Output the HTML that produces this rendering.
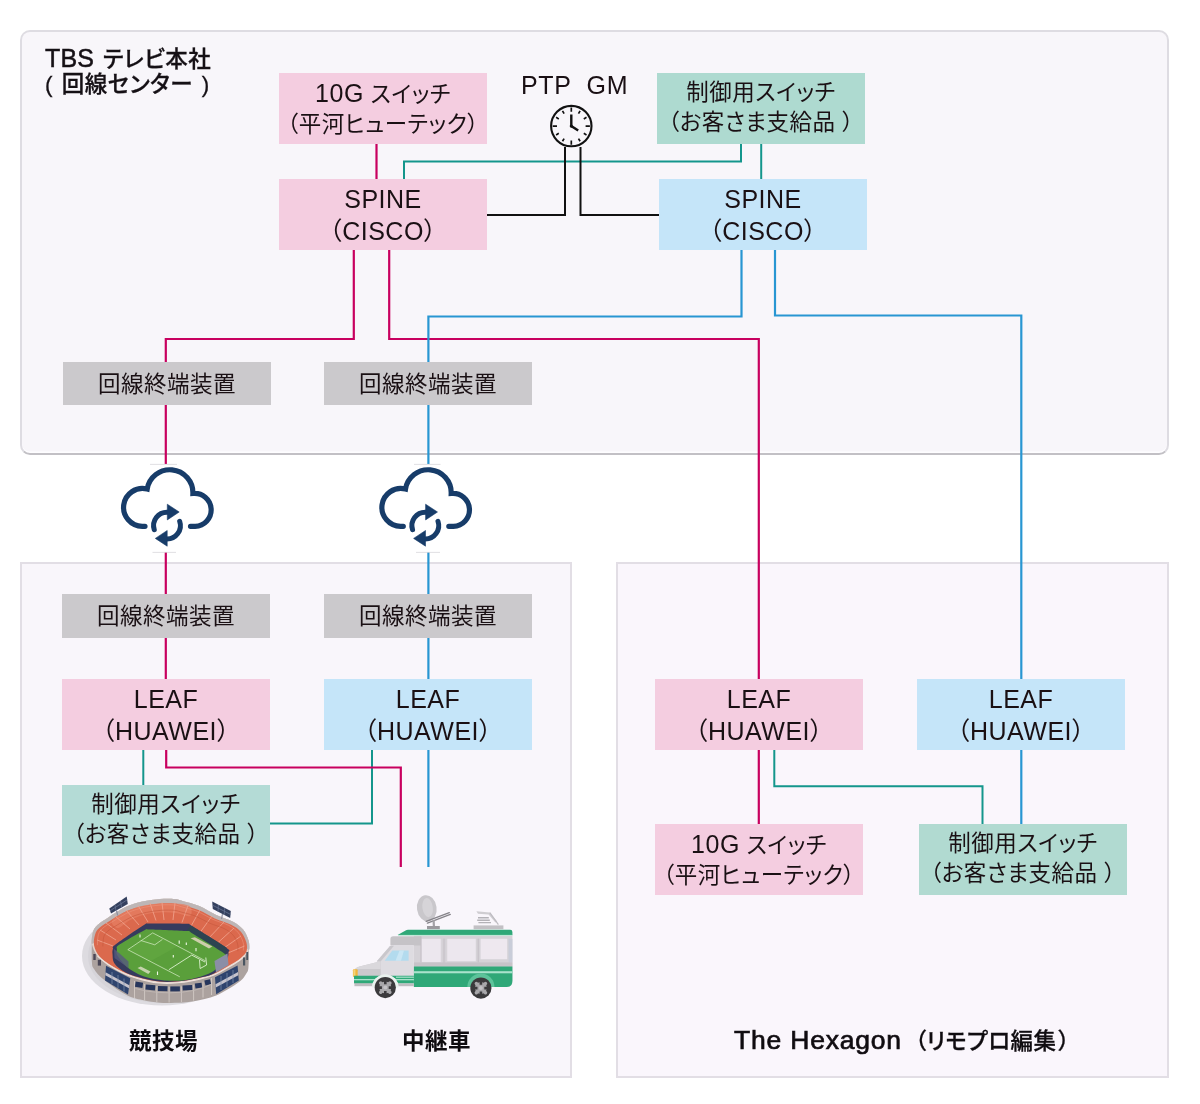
<!DOCTYPE html>
<html lang="ja">
<head>
<meta charset="utf-8">
<title>TBS テレビ本社 ネットワーク構成図</title>
<style>
  html, body { margin: 0; padding: 0; background: #ffffff; }
  body { width: 1200px; height: 1104px; position: relative; overflow: hidden;
         font-family: "Liberation Sans", "Noto Sans CJK JP", sans-serif; color: #1a1014; }
  #root { position: absolute; left: 0; top: 0; width: 1200px; height: 1104px; will-change: transform; }
  .panel { position: absolute; box-sizing: border-box; background: #f8f6fa; border: 2px solid #dedce2; }
  #p-top { left: 20px; top: 30px; width: 1149px; height: 425px; border-radius: 10px;
           border-bottom: 2px solid #c2c0c5; box-shadow: inset 0 -1.5px 0 0 #fefdff; }
  #p-left { left: 20px; top: 562px; width: 552px; height: 516px; background: #f9f6fb; border-color: #e2dee5; }
  #p-right { left: 616px; top: 562px; width: 553px; height: 516px; background: #faf6fc; border-color: #e2dee5; }

  .box { position: absolute; box-sizing: border-box; width: 208px; height: 71px; text-align: center;
         font-size: 22.5px; line-height: 30px; padding-top: 5px; white-space: nowrap; letter-spacing: 0.5px;
         font-feature-settings: "palt" 1; }
  .en { font-size: 25px; letter-spacing: 0.5px; }
  .pink { background: #f4cde0; }
  .blue { background: #c5e5f9; }
  .green { background: #aedad0; }
  .green2 { background: #b4dbd6; }
  .green3 { background: #b1dad1; }
  .gray { background: #cbc9cc; height: 43.5px; line-height: 43px; padding-top: 1px; }

  .title { position: absolute; left: 45px; top: 45.5px; font-size: 22.5px; line-height: 25px; font-weight: 500;
           white-space: nowrap; color: #151015; letter-spacing: 0.5px; word-spacing: 2px; font-feature-settings: "palt" 1; }
  .title .en { letter-spacing: 0.2px; }
  .title, #hex { -webkit-text-stroke: 0.3px #151015; }
  .title .en { -webkit-text-stroke: 0.5px #151015; }
  #hex .en { -webkit-text-stroke: 0.7px #151015; }
  #hex .en { font-size: 26.5px; letter-spacing: 0.8px; }
  .lbl { position: absolute; font-weight: 700; font-size: 22.5px; line-height: 30px; white-space: nowrap; color: #0f0c10;
         letter-spacing: 0.5px; font-feature-settings: "palt" 1; }
  .ptp { position: absolute; left: 521px; top: 69.5px; font-size: 25px; line-height: 30px; white-space: pre; letter-spacing: 0.7px; }
  svg { position: absolute; left: 0; top: 0; }
</style>
</head>
<body>
<div id="root">

<div class="panel" id="p-top"></div>
<div class="panel" id="p-left"></div>
<div class="panel" id="p-right"></div>

<!-- connection lines -->
<svg id="lines" width="1200" height="1104" viewBox="0 0 1200 1104" fill="none" stroke-width="2" stroke-linejoin="miter">
  <!-- teal -->
  <g stroke="#14968c">
    <path d="M404 180 V161.5 H741 V143"/>
    <path d="M761.2 143 V180"/>
    <path d="M143.3 749 V786"/>
    <path d="M372 749 V823.5 H270"/>
    <path d="M774.3 749 V786.3 H982.5 V825"/>
  </g>
  <!-- pink -->
  <g stroke="#c8005f" stroke-width="2.2">
    <path d="M376.5 143 V180"/>
    <path d="M353.8 249 V339 H165.8 V464"/>
    <path d="M165.8 552 V680"/>
    <path d="M166.2 749 V767.5 H400.8 V867"/>
    <path d="M389.2 249 V339 H758.8 V825"/>
  </g>
  <!-- blue -->
  <g stroke="#2896d2" stroke-width="2.2">
    <path d="M741.5 249 V316.5 H428.4 V464"/>
    <path d="M428.4 552 V867"/>
    <path d="M775 249 V315.5 H1021.3 V825"/>
  </g>
  <!-- black -->
  <g stroke="#111111">
    <path d="M486 215 H565 V147"/>
    <path d="M660 215 H580.5 V147"/>
  </g>
</svg>

<!-- top panel -->
<div class="title"><span class="en">TBS</span> テレビ本社<br>( 回線センター )</div>

<div class="box pink" style="left:279px;top:73px"><span class="en">10G</span> スイッチ<br>（平河ヒューテック）</div>
<div class="box pink" style="left:279px;top:179px"><span class="en">SPINE<br>（CISCO）</span></div>
<div class="ptp">PTP  GM</div>
<div class="box green" style="left:657px;top:73px">制御用スイッチ<br>（お客さま支給品 ）</div>
<div class="box blue" style="left:659px;top:179px"><span class="en">SPINE<br>（CISCO）</span></div>
<div class="box gray" style="left:63px;top:361.5px">回線終端装置</div>
<div class="box gray" style="left:324px;top:361.5px">回線終端装置</div>

<!-- bottom-left panel -->
<div class="box gray" style="left:62px;top:594px">回線終端装置</div>
<div class="box gray" style="left:324px;top:594px">回線終端装置</div>
<div class="box pink" style="left:62px;top:679px"><span class="en">LEAF<br>（HUAWEI）</span></div>
<div class="box blue" style="left:324px;top:679px"><span class="en">LEAF<br>（HUAWEI）</span></div>
<div class="box green2" style="left:62px;top:785px">制御用スイッチ<br>（お客さま支給品 ）</div>
<div class="lbl" style="left:129px;top:1027px">競技場</div>
<div class="lbl" style="left:402px;top:1027px">中継車</div>

<!-- bottom-right panel -->
<div class="box pink" style="left:655px;top:679px"><span class="en">LEAF<br>（HUAWEI）</span></div>
<div class="box blue" style="left:917px;top:679px"><span class="en">LEAF<br>（HUAWEI）</span></div>
<div class="box pink" style="left:655px;top:824px"><span class="en">10G</span> スイッチ<br>（平河ヒューテック）</div>
<div class="box green3" style="left:919px;top:824px">制御用スイッチ<br>（お客さま支給品 ）</div>
<div class="lbl" id="hex" style="left:734px;top:1024.75px;font-weight:500"><span class="en">The Hexagon</span><span style="margin-left:13px;letter-spacing:0.4px">（リモプロ編集<span style="margin-left:2px">）</span></span></div>

<!-- icons -->
<svg id="icons" width="1200" height="1104" viewBox="0 0 1200 1104">
  <!-- clock -->
  <g fill="none" stroke="#111111" stroke-linecap="butt">
    <circle cx="571.3" cy="126.1" r="20.2" stroke-width="2.1"/>
    <path d="M571.3 111.8L571.3 107.5M578.5 113.6L580.1 110.9M583.8 118.9L586.5 117.3M585.6 126.1L589.9 126.1M583.8 133.3L586.5 134.9M578.5 138.6L580.1 141.3M571.3 140.4L571.3 144.7M564.1 138.6L562.5 141.3M558.8 133.3L556.1 134.9M557.0 126.1L552.7 126.1M558.8 118.9L556.1 117.3M564.1 113.6L562.5 110.9" stroke-width="1.7"/>
    <path d="M571.3 114.6 V126.1 L578.2 130.5" stroke-width="2.4" stroke-linejoin="miter"/>
    <circle cx="571.3" cy="126.1" r="1.6" fill="#111111" stroke="none"/>
  </g>
  <!-- cloud sync icons -->
  <path d="M150 464.4H177M152.5 552.4H176M414 464.4H440.5M416 552.4H440" stroke="#d9d8dc" stroke-width="0.8" fill="none"/>
  <g>
    <path d="M145 526.3 H142.3 A18.9 18.9 0 1 1 147.2 489.1 A23 23 0 0 1 192.9 493.4 A16.5 16.5 0 1 1 195.1 526.3 H190.5" fill="none" stroke="#173c69" stroke-width="5.2" stroke-linecap="round" stroke-linejoin="miter"/>
    <path d="M154.26 529.74 A13.4 13.4 0 0 1 167.47 512.21 M179.67 521.24 A13.4 13.4 0 0 1 166.53 538.99" fill="none" stroke="#173c69" stroke-width="5" stroke-linecap="round"/>
    <path d="M167.3 504.2 L179.2 512 L167.3 519.9 Z M167.2 530.5 L155.3 538.4 L167.2 546.2 Z" fill="#173c69" stroke="#173c69" stroke-width="0.6" stroke-linejoin="round"/>
  </g>
  <g transform="translate(258.3 0)">
    <path d="M145 526.3 H142.3 A18.9 18.9 0 1 1 147.2 489.1 A23 23 0 0 1 192.9 493.4 A16.5 16.5 0 1 1 195.1 526.3 H190.5" fill="none" stroke="#173c69" stroke-width="5.2" stroke-linecap="round" stroke-linejoin="miter"/>
    <path d="M154.26 529.74 A13.4 13.4 0 0 1 167.47 512.21 M179.67 521.24 A13.4 13.4 0 0 1 166.53 538.99" fill="none" stroke="#173c69" stroke-width="5" stroke-linecap="round"/>
    <path d="M167.3 504.2 L179.2 512 L167.3 519.9 Z M167.2 530.5 L155.3 538.4 L167.2 546.2 Z" fill="#173c69" stroke="#173c69" stroke-width="0.6" stroke-linejoin="round"/>
  </g>
  <!--STADIUM-->
  <!-- stadium -->
  <g>
    <ellipse cx="162" cy="956" rx="80" ry="49.5" fill="#dddbe0"/>
    <ellipse cx="164" cy="956" rx="76" ry="47" fill="#d6d4d9"/>
    <path d="M91.9 944.0C92.1 939.0 92.1 935.2 93.0 932.0C93.9 928.8 94.9 927.5 97.5 925.0C100.1 922.5 104.0 920.2 108.7 917.2C113.4 914.2 120.0 909.7 125.6 907.1C131.2 904.5 136.7 902.9 142.4 901.5C148.1 900.1 154.6 899.3 160.0 898.9C165.4 898.5 171.2 898.6 175.0 898.9C178.8 899.2 178.4 899.7 182.5 900.9C186.6 902.1 193.7 903.6 199.3 906.0C204.9 908.4 210.6 912.4 216.2 915.0C221.8 917.6 228.5 919.3 233.0 921.7C237.5 924.1 240.5 926.4 243.1 929.6C245.7 932.8 247.6 937.4 248.6 940.8C249.6 944.2 248.8 945.5 248.8 950.0C248.8 954.5 248.9 964.0 248.4 968.0C247.9 972.0 247.6 971.6 246.0 974.0C244.4 976.4 243.7 978.7 238.7 982.3C233.7 985.9 223.7 992.4 216.2 995.5C208.7 998.6 200.6 1000.0 193.7 1001.2C186.8 1002.4 180.6 1002.5 175.0 1002.8C169.4 1003.1 165.4 1003.3 160.0 1002.8C154.6 1002.3 148.1 1001.4 142.4 1000.0C136.7 998.6 132.2 997.9 125.6 994.4C119.0 990.9 108.4 983.1 103.1 978.9C97.8 974.7 95.9 971.8 94.0 969.0C92.1 966.2 92.2 966.2 91.9 962.0C91.6 957.8 91.7 949.0 91.9 944.0Z" fill="#aca29f"/>
    <path d="M91.9 944.0C91.2 940.0 92.1 935.2 93.0 932.0C93.9 928.8 94.9 927.5 97.5 925.0C100.1 922.5 104.0 920.2 108.7 917.2C113.4 914.2 120.0 909.7 125.6 907.1C131.2 904.5 136.7 902.9 142.4 901.5C148.1 900.1 154.6 899.3 160.0 898.9C165.4 898.5 171.2 898.6 175.0 898.9C178.8 899.2 178.4 899.7 182.5 900.9C186.6 902.1 193.7 903.6 199.3 906.0C204.9 908.4 210.6 912.4 216.2 915.0C221.8 917.6 228.5 919.3 233.0 921.7C237.5 924.1 240.5 926.4 243.1 929.6C245.7 932.8 247.6 937.4 248.6 940.8C249.6 944.2 249.4 947.5 248.8 950.0C248.2 952.5 246.7 953.7 245.0 955.5C243.3 957.3 241.6 958.9 238.7 960.9C235.8 962.9 231.5 965.4 227.4 967.7C223.3 970.1 219.5 972.9 213.9 975.0C208.3 977.1 200.2 979.1 193.7 980.4C187.2 981.7 180.6 982.6 175.0 983.0C169.4 983.4 165.4 983.5 160.0 983.0C154.6 982.5 148.1 981.3 142.4 979.8C136.7 978.3 131.2 976.7 125.6 974.2C120.0 971.7 113.4 968.0 108.7 965.0C104.0 962.0 100.3 959.5 97.5 956.0C94.7 952.5 92.7 948.0 91.9 944.0Z" fill="#e3d3cc"/>
    <path d="M91.9 944.0C90.7 943.5 92.1 935.2 93.0 932.0C93.9 928.8 94.9 927.5 97.5 925.0C100.1 922.5 104.0 920.2 108.7 917.2C113.4 914.2 120.0 909.7 125.6 907.1C131.2 904.5 136.7 902.9 142.4 901.5C148.1 900.1 154.6 899.3 160.0 898.9C165.4 898.5 171.2 898.6 175.0 898.9C178.8 899.2 178.4 899.7 182.5 900.9C186.6 902.1 193.7 903.6 199.3 906.0C204.9 908.4 210.6 912.4 216.2 915.0C221.8 917.6 228.5 919.3 233.0 921.7C237.5 924.1 240.5 926.4 243.1 929.6C245.7 932.8 247.6 937.4 248.6 940.8C249.6 944.2 250.2 950.1 248.8 950.0C247.4 949.9 244.0 944.2 240.0 940.0C236.0 935.8 231.7 929.7 225.0 925.0C218.3 920.3 209.2 915.3 200.0 912.0C190.8 908.7 180.0 905.8 170.0 905.0C160.0 904.2 149.2 904.5 140.0 907.0C130.8 909.5 121.7 915.3 115.0 920.0C108.3 924.7 103.8 931.0 100.0 935.0C96.2 939.0 93.1 944.5 91.9 944.0Z" fill="#bdb6b6"/>
    <path d="M94.1 945.4C93.4 941.7 94.2 937.2 95.2 934.2C96.1 931.3 97.0 930.0 99.5 927.7C102.1 925.4 105.9 923.2 110.4 920.5C115.0 917.7 121.4 913.5 126.8 911.1C132.3 908.6 137.6 907.1 143.2 905.9C148.7 904.6 155.0 903.9 160.3 903.4C165.6 903.0 171.2 903.1 174.9 903.4C178.5 903.8 178.2 904.2 182.2 905.3C186.1 906.4 193.0 907.9 198.5 910.1C203.9 912.2 209.4 916.0 214.9 918.4C220.4 920.9 226.9 922.4 231.2 924.7C235.6 926.9 238.5 929.0 241.1 932.0C243.6 935.0 245.5 939.3 246.4 942.4C247.3 945.6 247.2 948.7 246.6 951.0C246.0 953.2 244.5 954.4 242.9 956.1C241.3 957.8 239.6 959.2 236.8 961.1C233.9 963.0 229.8 965.2 225.8 967.4C221.8 969.6 218.1 972.3 212.7 974.2C207.2 976.2 199.3 978.0 193.0 979.2C186.7 980.5 180.3 981.3 174.9 981.7C169.4 982.1 165.6 982.2 160.3 981.7C155.0 981.2 148.7 980.0 143.2 978.7C137.6 977.3 132.3 975.8 126.8 973.5C121.4 971.2 115.0 967.7 110.4 964.9C105.9 962.1 102.3 959.8 99.5 956.6C96.8 953.3 94.8 949.1 94.1 945.4Z" fill="#db694d"/>
    <path d="M112.0 921.0C113.3 918.2 120.8 914.0 126.0 911.5C131.2 909.0 137.3 907.1 143.0 905.8C148.7 904.4 154.5 903.8 160.0 903.4C165.5 903.0 171.0 903.1 176.0 903.6C181.0 904.1 187.7 904.4 190.0 906.5C192.3 908.6 192.3 914.9 190.0 916.0C187.7 917.1 181.0 913.6 176.0 913.0C171.0 912.4 165.2 912.2 160.0 912.5C154.8 912.8 150.0 913.2 145.0 914.5C140.0 915.8 134.5 917.8 130.0 920.0C125.5 922.2 121.0 927.8 118.0 928.0C115.0 928.2 110.7 923.8 112.0 921.0Z" fill="#e57f63" opacity="0.75"/>
    <path d="M100 930L116 940M106 923L122 935M115 916L130 929M126 910L139 925M138 905.5L148 922M150 903L156 920.5M162 902.5L164 920M175 902.8L173 920M188 905.5L182 922.5M200 910L190 928M212 916L199 934M224 922L208 939M234 928L217 943.5M241 936L224 948M97 940L113 946M244.5 946L228 953" stroke="#f0a58f" stroke-width="0.9" fill="none" opacity="0.9"/>
    <path d="M102.8 946.4C103.0 944.8 103.0 939.3 103.8 936.8C104.6 934.3 105.4 933.2 107.7 931.2C109.9 929.2 113.3 927.3 117.3 925.0C121.3 922.6 127.0 919.0 131.8 916.9C136.6 914.8 141.3 913.5 146.3 912.4C151.2 911.3 156.7 910.7 161.4 910.3C166.1 910.0 171.1 910.1 174.3 910.3C177.5 910.6 177.3 911.0 180.8 911.9C184.2 912.9 190.4 914.1 195.2 916.0C200.0 917.9 204.9 921.1 209.7 923.2C214.6 925.3 220.3 926.6 224.2 928.6C228.0 930.5 230.6 932.3 232.9 934.9C235.1 937.4 236.8 941.1 237.6 943.8C238.4 946.6 237.7 950.0 237.8 951.2" stroke="#c4563c" stroke-width="0.8" fill="none" opacity="0.7"/>
    <path d="M97.4 945.2C97.5 943.4 97.5 937.3 98.4 934.5C99.3 931.7 100.1 930.5 102.6 928.3C105.0 926.1 108.6 924.0 113.0 921.3C117.3 918.7 123.5 914.7 128.7 912.3C133.9 910.0 139.0 908.6 144.3 907.3C149.7 906.1 155.6 905.4 160.7 905.0C165.8 904.6 171.2 904.7 174.7 905.0C178.1 905.3 177.9 905.8 181.6 906.8C185.4 907.9 192.0 909.3 197.2 911.4C202.5 913.4 207.7 917.0 213.0 919.4C218.2 921.7 224.4 923.2 228.6 925.3C232.8 927.5 235.6 929.5 238.0 932.4C240.4 935.2 242.2 939.3 243.1 942.3C244.0 945.3 243.3 949.1 243.3 950.5" stroke="#ef9a83" stroke-width="0.7" fill="none" opacity="0.7"/>
    <path d="M113.0 948.5C113.5 946.9 110.4 948.4 115.5 944.5C120.6 940.6 137.8 928.7 143.5 925.2C149.2 921.7 142.9 923.8 150.0 923.6C157.1 923.4 179.0 923.4 186.0 923.8C193.0 924.2 185.3 922.0 192.0 926.0C198.7 930.0 219.9 943.1 226.0 947.5C232.1 951.9 228.5 950.2 228.5 952.5C228.5 954.8 228.4 957.5 226.0 961.0C223.6 964.5 219.3 970.5 213.9 973.5C208.5 976.5 200.2 977.5 193.7 978.9C187.2 980.2 180.6 981.1 175.0 981.6C169.4 982.1 165.4 982.2 160.0 981.6C154.6 981.0 148.1 979.8 142.4 978.3C136.7 976.8 130.2 975.1 125.6 972.6C120.9 970.1 116.7 966.6 114.5 963.5C112.3 960.4 112.8 956.5 112.5 954.0C112.2 951.5 112.5 950.1 113.0 948.5Z" fill="#363b5e"/>
    <path d="M191 925.6 L226.5 947.6 L226 956 L186 931 Z" fill="#2c464f" opacity="0.85"/>
    <path d="M116.9 949.5C117.2 947.5 115.0 947.7 119.5 944.5C124.0 941.3 138.9 932.9 144.0 930.4C149.1 927.9 142.8 929.3 150.0 929.4C157.2 929.5 180.3 930.5 187.3 931.1C194.3 931.8 185.8 929.6 192.0 933.3C198.2 937.0 218.8 949.5 224.2 953.5C229.6 957.5 226.3 954.5 224.5 957.5C222.7 960.5 218.8 967.7 213.3 971.3C207.8 974.9 198.9 977.3 191.7 978.9C184.5 980.5 177.2 980.9 170.0 980.7C162.8 980.5 155.0 979.7 148.3 977.8C141.6 975.9 135.0 972.8 129.9 969.2C124.9 965.7 120.2 959.8 118.0 956.5C115.8 953.2 116.7 951.5 116.9 949.5Z" fill="#5a9f3b"/>
    <path d="M127.8 949.7 L152.7 932.9 L178 946 L150 961.5 Z" fill="#66ab43" opacity="0.5"/>
    <path d="M179.8 976.8 L127.8 949.7 L152.7 932.9 L205.8 961 M140.8 940.5 L154.8 944.8 L162.4 939.4" stroke="#d6ecc6" stroke-width="0.8" fill="none" opacity="0.9"/>
    <path d="M168.9 969.7 L191.7 955.1 M191.7 955.1 L205 962 M199.5 960 l.6 8.5 l6.5 -3.5 l-.8 -7.5" stroke="#e4f4d8" stroke-width="0.9" fill="none" opacity="0.95"/>
    <path d="M190.6 938.3 L209 948.6 L212.3 946.4 L194.9 937.2 Z" fill="#d9d3b8" opacity="0.9"/>
    <path d="M137.5 968.1 L148.3 974 L150.5 971.5 L140.8 966.6 Z" fill="#cfd8b8" opacity="0.9"/>
    <path d="M179.2 940.5v3.2M186.3 942.5v2.6M196 948v3.2M173.3 955v2.6M157.5 971.5v3.4M140 934.5v3" stroke="#eef8e6" stroke-width="1.1" fill="none"/>
    <path d="M245.0 955.5C243.9 956.4 241.6 958.9 238.7 960.9C235.8 962.9 231.5 965.4 227.4 967.7C223.3 970.1 219.5 972.9 213.9 975.0C208.3 977.1 200.2 979.1 193.7 980.4C187.2 981.7 180.6 982.6 175.0 983.0C169.4 983.4 165.4 983.5 160.0 983.0C154.6 982.5 148.1 981.3 142.4 979.8C136.7 978.3 131.2 976.7 125.6 974.2C120.0 971.7 113.4 968.0 108.7 965.0C104.0 962.0 99.4 957.5 97.5 956.0" stroke="#f0e2dc" stroke-width="1.2" fill="none"/>
    <path d="M214.5 961 L227.5 953.5 L228.5 965 L216 972.5 Z" fill="#8b8ea6"/>
    <path d="M114 949 L119 953 L128.5 961.5 L128.5 968 L114.5 958 Z" fill="#565a7e" opacity="0.8"/>
    <path d="M106 965.8 L130.3 978.3 L128 994.4 L105 980.6 Z" fill="#2f446e"/>
    <path d="M105.6 972.2 L129.3 985.2 L128.9 988.2 L105.3 975.3 Z" fill="#c6c3cc"/>
    <path d="M112 972 v12 M118 975 v13 M124 978.5 v13" stroke="#7f8fae" stroke-width="0.7"/>
    <path d="M215 977.3 L237.6 965.6 L238.8 980.4 L216.2 994.2 Z" fill="#2f446e"/>
    <path d="M215.5 984.3 L238 972 L238.3 975.2 L215.8 987.5 Z" fill="#c6c3cc"/>
    <path d="M221 976 v14 M227 973 v14 M233 970 v13" stroke="#7f8fae" stroke-width="0.7"/>
    <rect x="135.7" y="981.6" width="7.5" height="5.3" fill="#27365c" transform="rotate(8 135.7 981.6)"/>
    <rect x="145.8" y="984.4" width="9.6" height="5.2" fill="#27365c" transform="rotate(5 145.8 984.4)"/>
    <rect x="158" y="986" width="9.6" height="5" fill="#27365c" transform="rotate(2 158 986)"/>
    <rect x="170.3" y="986.4" width="9.6" height="5" fill="#27365c" transform="rotate(0 170.3 986.4)"/>
    <rect x="182.5" y="985.6" width="9.6" height="5" fill="#27365c" transform="rotate(-3 182.5 985.6)"/>
    <rect x="194.8" y="983.6" width="6.8" height="5" fill="#27365c" transform="rotate(-8 194.8 983.6)"/>
    <rect x="204.3" y="980.6" width="5.8" height="5" fill="#27365c" transform="rotate(-14 204.3 980.6)"/>
    <path d="M134.5 981 v17 M144.6 984 v16.5 M156.8 986 v16 M169.1 987 v15.6 M181.4 986.4 v15.6 M193.6 984.6 v16 M203 981.6 v16 M211.5 978 v17" stroke="#d2c9c5" stroke-width="0.9"/>
    <path d="M135.5 988.5 L146 991 L158 992.4 L170 992.8 L182 992.2 L194 990.4 L203 987.8 L211 984.5" stroke="#c3bab6" stroke-width="0.8" fill="none"/>
    <rect x="93.3" y="954" width="2.4" height="6" fill="#4a4656"/><rect x="97.8" y="959.8" width="3.2" height="5.8" fill="#4a4656"/>
    <rect x="243" y="957.5" width="2.2" height="8" fill="#4a5560"/><rect x="246.3" y="952" width="1.8" height="8" fill="#4a5560"/>
    <path d="M109.3 908.4 L126.7 896.5 L127.8 903.9 L111 913.5 Z" fill="#34405e"/>
    <path d="M110 910.8 L127.2 899.8 M115 905 l1 6 M120.6 901 l1 6.5" stroke="#6b7898" stroke-width="0.7"/>
    <path d="M116.5 910.5 l1.2 5" stroke="#8d8fa0" stroke-width="1.2"/>
    <path d="M212.2 901.6 L230.8 911.1 L230.2 918 L212.8 909 Z" fill="#34405e"/>
    <path d="M212.5 905.2 L230.5 914.4 M218.4 905 l-.4 6.6 M224.6 908.2 l-.4 6.6" stroke="#6b7898" stroke-width="0.7"/>
    <path d="M222.5 914 l-1 5" stroke="#8d8fa0" stroke-width="1.2"/>
  </g>
  <!--/STADIUM-->
  <!--TRUCK-->
  <!-- relay truck -->
  <g>
    <ellipse cx="426.8" cy="908.3" rx="9.8" ry="13.2" transform="rotate(-8 426.8 908.3)" fill="#c9c7cb"/>
    <ellipse cx="427.6" cy="907.6" rx="5.2" ry="9.6" transform="rotate(-8 427.6 907.6)" fill="#d6d4d8"/>
    <path d="M426.2 921.4 L449.3 912.6 M427.4 923.2 L450.3 914.4" stroke="#858389" stroke-width="1.3" stroke-linecap="round"/>
    <path d="M433.6 920 L433.9 926.4" stroke="#a3a1a6" stroke-width="2.2"/>
    <rect x="427" y="926" width="12.8" height="3.2" fill="#9b999e"/>
    <rect x="473.6" y="925.4" width="29.8" height="3.8" fill="#c2c0c4"/>
    <path d="M476.4 911.2 L489.8 912.6 L497.2 921.6 L495.4 922.6 L488.6 914.6 L478 913.8 Z" fill="#cfcdd1"/>
    <path d="M478 917.8 H488.8 M477.2 920.2 H489.8 M478.4 922.6 H491" stroke="#b4b2b7" stroke-width="1.4"/>
    <path d="M489.8 912.6 L498.4 924.6" stroke="#bebcc1" stroke-width="1.2"/>
    <path d="M413.9 934 H512.4 V981 Q512.4 987 506.4 987 H413.9 Z" fill="#d5d2d7"/>
    <path d="M397.6 934.9 L405.6 930.4 Q406.6 929.8 408 929.8 H510.2 Q512.4 929.8 512.4 932 V934.9 Z" fill="#2fa878"/>
    <rect x="398" y="934.9" width="114.4" height="1" fill="#bfe8d8"/>
    <path d="M393.2 936.2 H421 V945.6 H390.4 V939 Q390.4 936.2 393.2 936.2 Z" fill="#c5c3c7"/>
    <rect x="421.4" y="938.8" width="19.4" height="23.4" fill="#ece7ee"/>
    <rect x="447.2" y="938.8" width="28.6" height="22.4" fill="#ece7ee"/>
    <rect x="480.6" y="938.8" width="26.6" height="20.4" fill="#eee8ef"/>
    <rect x="508.6" y="938.8" width="3.8" height="23.6" fill="#c9cdd9"/>
    <path d="M421 936.4 V962.4 M444 938.6 V966 M478.2 938.6 V962.4" stroke="#c4bec5" stroke-width="1"/>
    <path d="M446.4 938.8 V966 M441.6 938.8 V966" stroke="#d9d4da" stroke-width="0.8"/>
    <rect x="413.9" y="962.4" width="98.5" height="4.2" fill="#c7c3c8"/>
    <path d="M376.8 961.2 L389.6 946.6 Q390.4 945.7 391.6 945.7 H413.9 V976 H380 Z" fill="#dedce1"/>
    <path d="M376.8 961.2 L389.6 946.6 Q390.4 945.7 391.6 945.7 H394 L380.6 961.4 Z" fill="#c9c7cc"/>
    <path d="M384.7 960.7 L392.3 950.5 H408.6 V960.7 Z" fill="#b3dbee"/>
    <path d="M399.5 950.5 H404 L401 960.7 H395.5 Z" fill="#cfe9f5" opacity="0.8"/>
    <path d="M380.6 961.2 L359.5 966.6 Q354.4 968 354 972 V984 H381 Z" fill="#cbc9cd"/>
    <path d="M380.6 961.2 L359.5 966.6 Q356.5 967.4 355.2 969 H380.6 Z" fill="#dad8dc"/>
    <rect x="352.9" y="969.2" width="4.8" height="7.8" rx="1" fill="#f1b63c"/>
    <rect x="353.4" y="969.8" width="2" height="6.6" fill="#f7d47a"/>
    <path d="M413.9 966.6 H512.4 V981 Q512.4 987 506.4 987 H413.9 Z" fill="#2fa878"/>
    <rect x="413.9" y="971.2" width="98.5" height="2.1" fill="#a9e2cc"/>
    <path d="M354 975.8 H413.9 V983.4 H354.8 Q354 983.4 354 982.6 Z" fill="#2fa878"/>
    <rect x="354" y="979" width="59.9" height="1.3" fill="#a9e2cc"/>
    <rect x="396" y="976.6" width="17.9" height="1.2" fill="#a9e2cc"/>
    <rect x="354.4" y="983.4" width="59.5" height="2.8" fill="#bfbdc1"/>
    <circle cx="385.3" cy="987.6" r="13.2" fill="#e9f1ee"/>
    <path d="M467.3 987 A13.6 13.6 0 0 1 494.5 987 Z" fill="#5cc39a"/>
    <rect x="366" y="987" width="140" height="16" fill="#f9f6fb"/>
    <path d="M372.1 987.6 A13.2 13.2 0 0 1 398.5 987.6 Z" fill="#e9f1ee"/>
    <circle cx="385.3" cy="987.6" r="10.6" fill="#3b3a3c"/>
    <circle cx="385.3" cy="987.6" r="6" fill="#a8a7aa"/>
    <path d="M380.7 983.0 L389.90000000000003 992.2 M389.90000000000003 983.0 L380.7 992.2" stroke="#a8a7aa" stroke-width="3.4" stroke-linecap="round"/>
    <path d="M385.3 981.0 V984.2 M385.3 991.0 V994.2 M378.7 987.6 H381.90000000000003 M388.7 987.6 H391.90000000000003" stroke="#3b3a3c" stroke-width="2.6"/>
    <circle cx="385.3" cy="987.6" r="2" fill="#c4c3c6"/>
    <circle cx="480.9" cy="988.1" r="10.6" fill="#3b3a3c"/>
    <circle cx="480.9" cy="988.1" r="6" fill="#a8a7aa"/>
    <path d="M476.29999999999995 983.5 L485.5 992.7 M485.5 983.5 L476.29999999999995 992.7" stroke="#a8a7aa" stroke-width="3.4" stroke-linecap="round"/>
    <path d="M480.9 981.5 V984.7 M480.9 991.5 V994.7 M474.29999999999995 988.1 H477.5 M484.29999999999995 988.1 H487.5" stroke="#3b3a3c" stroke-width="2.6"/>
    <circle cx="480.9" cy="988.1" r="2" fill="#c4c3c6"/>
  </g>
  <!--/TRUCK-->
</svg>

</div>
</body>
</html>
